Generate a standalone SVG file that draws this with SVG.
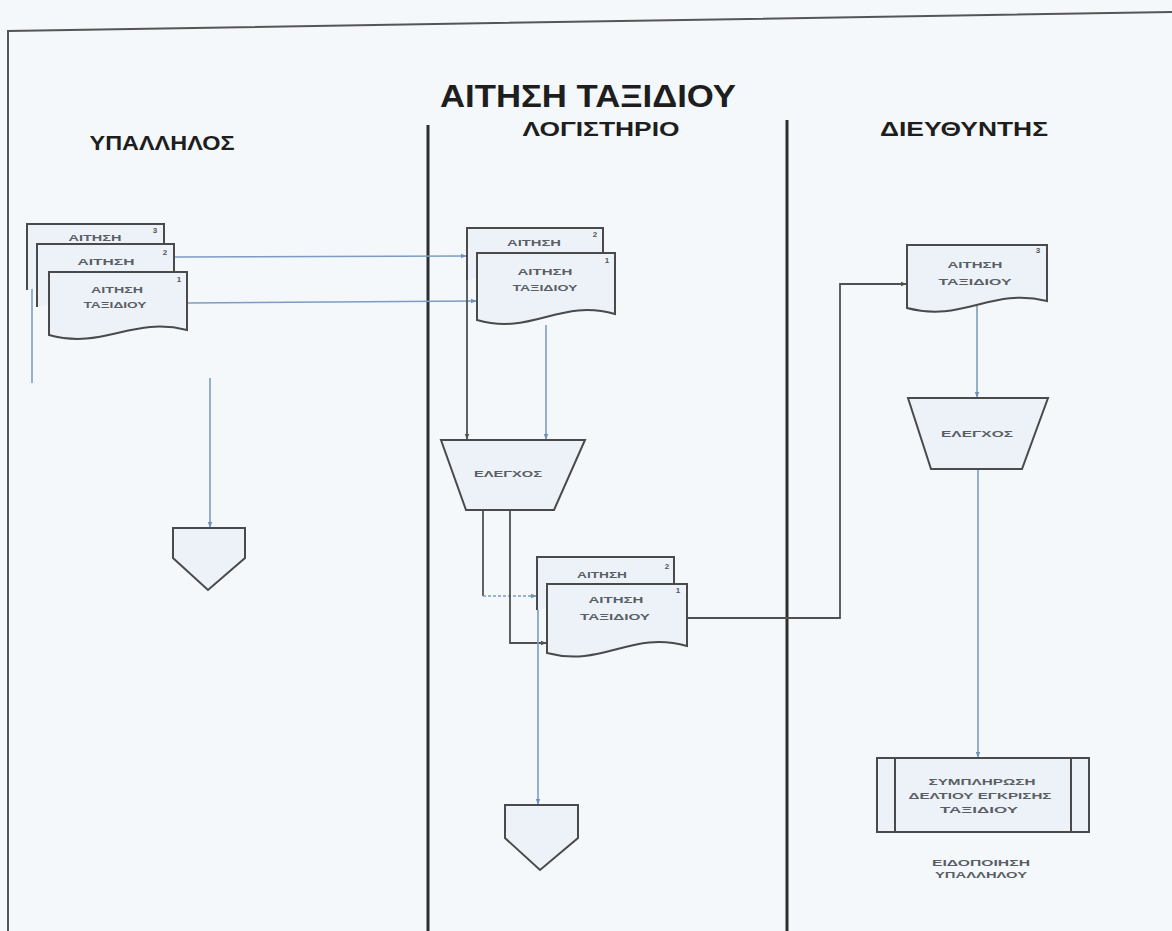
<svg xmlns="http://www.w3.org/2000/svg" width="1172" height="931" viewBox="0 0 1172 931">
<defs>
<style>
.shape{fill:#edf2f8;stroke:#4a4a4a;stroke-width:2}
.t{font-family:"Liberation Sans",Arial,sans-serif;font-weight:bold;fill:#5a5f66;font-size:9px;text-anchor:middle}
.n{font-family:"Liberation Sans",Arial,sans-serif;font-weight:bold;fill:#555;font-size:8px;text-anchor:middle}
.h{font-family:"Liberation Sans",Arial,sans-serif;font-weight:bold;fill:#1e1e1e;text-anchor:middle}
.blue{fill:none;stroke:#7d9cc2;stroke-width:1.6}
.dark{fill:none;stroke:#505050;stroke-width:1.8}
</style>
<marker id="ab" viewBox="0 0 10 10" refX="9" refY="5" markerWidth="6" markerHeight="6" orient="auto" markerUnits="userSpaceOnUse">
<path d="M0,1 L10,5 L0,9 Z" fill="#6f8fb8"/>
</marker>
<marker id="ad" viewBox="0 0 10 10" refX="9" refY="5" markerWidth="6" markerHeight="6" orient="auto" markerUnits="userSpaceOnUse">
<path d="M0,1 L10,5 L0,9 Z" fill="#505050"/>
</marker>
</defs>
<rect width="1172" height="931" fill="#f5f8fb"/>
<g id="frame">
<path d="M8,931 V31 L1172,12" fill="none" stroke="#555" stroke-width="2"/>
<line x1="428" y1="125" x2="428" y2="931" stroke="#2e2e2e" stroke-width="3"/>
<line x1="787" y1="120" x2="787" y2="931" stroke="#2e2e2e" stroke-width="3"/>
</g>
<g id="titles">
<text class="h" x="588" y="107" font-size="31" textLength="296" lengthAdjust="spacingAndGlyphs">ΑΙΤΗΣΗ ΤΑΞΙΔΙΟΥ</text>
<text class="h" x="162" y="150" font-size="20" textLength="145" lengthAdjust="spacingAndGlyphs">ΥΠΑΛΛΗΛΟΣ</text>
<text class="h" x="601" y="136" font-size="20" textLength="157" lengthAdjust="spacingAndGlyphs">ΛΟΓΙΣΤΗΡΙΟ</text>
<text class="h" x="964" y="136" font-size="20" textLength="168" lengthAdjust="spacingAndGlyphs">ΔΙΕΥΘΥΝΤΗΣ</text>
</g>
<g id="connectors">
<line class="blue" x1="32" y1="288" x2="32" y2="383"/>
<line class="blue" x1="174" y1="257" x2="466" y2="256" marker-end="url(#ab)"/>
<line class="blue" x1="187" y1="303" x2="476" y2="301" marker-end="url(#ab)"/>
<line class="blue" x1="210" y1="378" x2="210" y2="527" marker-end="url(#ab)"/>
<line class="dark" x1="467" y1="278" x2="467" y2="439" marker-end="url(#ad)"/>
<line class="blue" x1="546" y1="325" x2="546" y2="439" marker-end="url(#ab)"/>
<path class="dark" d="M483,510 V596"/>
<path class="blue" d="M483,596 H536" stroke-dasharray="3,2" marker-end="url(#ab)"/>
<path class="dark" d="M510,510 V643 H546" marker-end="url(#ad)"/>
<line class="blue" x1="538" y1="607" x2="538" y2="804" marker-end="url(#ab)"/>
<path class="dark" d="M687,618 H840 V284 H906" marker-end="url(#ad)"/>
<line class="blue" x1="977" y1="306" x2="977" y2="397" marker-end="url(#ab)"/>
<line class="blue" x1="978" y1="469" x2="978" y2="757" marker-end="url(#ab)"/>
</g>
<g id="emp-doc3">
<path class="shape" d="M27,290 V224 H164 V260"/>
<text class="t" x="95" y="241" textLength="53" lengthAdjust="spacingAndGlyphs">ΑΙΤΗΣΗ</text>
<text class="n" x="155" y="233">3</text>
</g>
<g id="emp-doc2">
<path class="shape" d="M37,307 V244 H174 V275"/>
<text class="t" x="106" y="265" textLength="57" lengthAdjust="spacingAndGlyphs">ΑΙΤΗΣΗ</text>
<text class="n" x="165" y="255">2</text>
</g>
<g id="emp-doc1">
<path class="shape" d="M49,272 H187 V330 C132,316 104,350 49,335 Z"/>
<text class="t" x="117" y="293" textLength="52" lengthAdjust="spacingAndGlyphs">ΑΙΤΗΣΗ</text>
<text class="t" x="115" y="308" textLength="63" lengthAdjust="spacingAndGlyphs">ΤΑΞΙΔΙΟΥ</text>
<text class="n" x="179" y="282">1</text>
</g>
<g id="emp-offpage">
<path class="shape" d="M173,528 H245 V558 L208,590 L173,558 Z"/>
</g>
<g id="acc-doc2">
<path class="shape" d="M467,280 V228 H603 V260"/>
<text class="t" x="534" y="246" textLength="54" lengthAdjust="spacingAndGlyphs">ΑΙΤΗΣΗ</text>
<text class="n" x="595" y="237">2</text>
</g>
<g id="acc-doc1">
<path class="shape" d="M477,253 H615 V314 C560,298 532,336 477,320 Z"/>
<text class="t" x="545" y="275" textLength="55" lengthAdjust="spacingAndGlyphs">ΑΙΤΗΣΗ</text>
<text class="t" x="545" y="291" textLength="65" lengthAdjust="spacingAndGlyphs">ΤΑΞΙΔΙΟΥ</text>
<text class="n" x="607" y="263">1</text>
</g>
<g id="acc-check">
<path class="shape" d="M441,440 L585,440 L554,510 L466,510 Z"/>
<text class="t" x="508" y="477" textLength="68" lengthAdjust="spacingAndGlyphs">ΕΛΕΓΧΟΣ</text>
</g>
<g id="acc-doc2b">
<path class="shape" d="M537,610 V557 H674 V590"/>
<text class="t" x="602" y="578" textLength="50" lengthAdjust="spacingAndGlyphs">ΑΙΤΗΣΗ</text>
<text class="n" x="667" y="569">2</text>
</g>
<g id="acc-doc1b">
<path class="shape" d="M547,584 H687 V646 C631,630 603,668 547,653 Z"/>
<text class="t" x="616" y="603" textLength="55" lengthAdjust="spacingAndGlyphs">ΑΙΤΗΣΗ</text>
<text class="t" x="615" y="620" textLength="70" lengthAdjust="spacingAndGlyphs">ΤΑΞΙΔΙΟΥ</text>
<text class="n" x="678" y="593">1</text>
</g>
<g id="acc-offpage">
<path class="shape" d="M505,805 H578 V838 L540,870 L505,838 Z"/>
</g>
<g id="dir-doc3">
<path class="shape" d="M907,245 H1047 V301 C991,287 963,323 907,308 Z"/>
<text class="t" x="975" y="268" textLength="55" lengthAdjust="spacingAndGlyphs">ΑΙΤΗΣΗ</text>
<text class="t" x="975" y="285" textLength="73" lengthAdjust="spacingAndGlyphs">ΤΑΞΙΔΙΟΥ</text>
<text class="n" x="1038" y="253">3</text>
</g>
<g id="dir-check">
<path class="shape" d="M908,398 L1048,398 L1022,469 L931,469 Z"/>
<text class="t" x="977" y="437" textLength="72" lengthAdjust="spacingAndGlyphs">ΕΛΕΓΧΟΣ</text>
</g>
<g id="dir-process">
<rect class="shape" x="877" y="758" width="212" height="74"/>
<line x1="895" y1="758" x2="895" y2="832" stroke="#4a4a4a" stroke-width="2"/>
<line x1="1071" y1="758" x2="1071" y2="832" stroke="#4a4a4a" stroke-width="2"/>
<text class="t" x="982" y="785" textLength="107" lengthAdjust="spacingAndGlyphs">ΣΥΜΠΛΗΡΩΣΗ</text>
<text class="t" x="980" y="799" textLength="143" lengthAdjust="spacingAndGlyphs">ΔΕΛΤΙΟΥ ΕΓΚΡΙΣΗΣ</text>
<text class="t" x="979" y="813" textLength="78" lengthAdjust="spacingAndGlyphs">ΤΑΞΙΔΙΟΥ</text>
</g>
<g id="dir-note">
<text class="t" x="981" y="866" textLength="98" lengthAdjust="spacingAndGlyphs">ΕΙΔΟΠΟΙΗΣΗ</text>
<text class="t" x="981" y="878" textLength="92" lengthAdjust="spacingAndGlyphs">ΥΠΑΛΛΗΛΟΥ</text>
</g>
</svg>
